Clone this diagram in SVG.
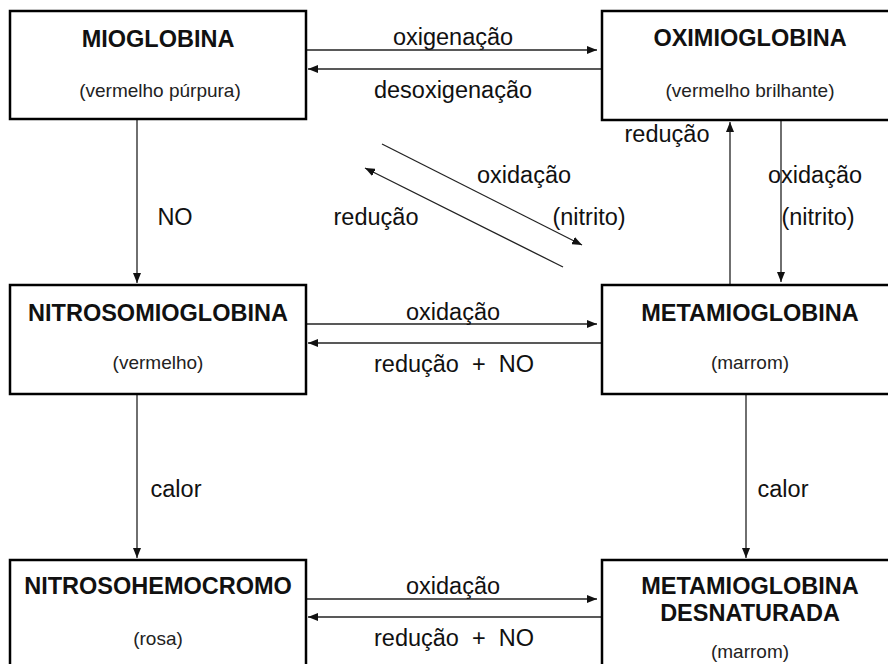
<svg xmlns="http://www.w3.org/2000/svg" width="888" height="664" viewBox="0 0 888 664">
<defs>
<style>
.box{fill:#fff;stroke:#000;stroke-width:2.5}
.t{font-family:"Liberation Sans",Arial,sans-serif;font-weight:bold;font-size:23.5px;fill:#111;text-anchor:middle}
.s{font-family:"Liberation Sans",Arial,sans-serif;font-size:19px;fill:#222;text-anchor:middle}
.l{font-family:"Liberation Sans",Arial,sans-serif;font-size:23.5px;fill:#111;text-anchor:middle}
.c{stroke:#222;stroke-width:1.3;fill:none;marker-end:url(#ah)}
</style>
<marker id="ah" markerUnits="userSpaceOnUse" markerWidth="11" markerHeight="8" refX="10" refY="4" orient="auto">
<path d="M0,0 L10,4 L0,8 z" fill="#111"/>
</marker>
</defs>
<rect width="888" height="664" fill="#fff"/>
<g id="connectors">
<line class="c" x1="306" y1="50" x2="597" y2="50"/>
<line class="c" x1="602" y1="69" x2="308" y2="69"/>
<line class="c" x1="137" y1="120" x2="137" y2="283"/>
<line class="c" x1="730" y1="284" x2="730" y2="122"/>
<line class="c" x1="781" y1="121" x2="781" y2="282"/>
<line class="c" x1="382" y1="144" x2="582" y2="245"/>
<line class="c" x1="563" y1="267" x2="365" y2="168"/>
<line class="c" x1="306" y1="324" x2="597" y2="324"/>
<line class="c" x1="602" y1="343" x2="308" y2="343"/>
<line class="c" x1="137" y1="395" x2="137" y2="558"/>
<line class="c" x1="746" y1="395" x2="746" y2="558"/>
<line class="c" x1="306" y1="599" x2="597" y2="599"/>
<line class="c" x1="602" y1="617" x2="308" y2="617"/>
<text class="l" x="453" y="45">oxigenação</text>
<text class="l" x="453" y="98">desoxigenação</text>
<text class="l" x="175" y="225">NO</text>
<text class="l" x="667" y="142">redução</text>
<text class="l" x="815" y="183">oxidação</text>
<text class="l" x="818" y="225">(nitrito)</text>
<text class="l" x="524" y="183">oxidação</text>
<text class="l" x="589" y="225">(nitrito)</text>
<text class="l" x="376" y="225">redução</text>
<text class="l" x="453" y="320">oxidação</text>
<text class="l" x="454" y="372" xml:space="preserve" style="white-space:pre">redução  +  NO</text>
<text class="l" x="176" y="497">calor</text>
<text class="l" x="783" y="497">calor</text>
<text class="l" x="453" y="594">oxidação</text>
<text class="l" x="454" y="646" xml:space="preserve" style="white-space:pre">redução  +  NO</text>
</g>
<g id="mioglobina">
<rect class="box" x="10" y="11" width="296" height="108"/>
<text class="t" x="158" y="47">MIOGLOBINA</text>
<text class="s" x="160" y="97">(vermelho púrpura)</text>
</g>
<g id="oximioglobina">
<rect class="box" x="602" y="11" width="296" height="109"/>
<text class="t" x="750" y="46">OXIMIOGLOBINA</text>
<text class="s" x="750" y="97">(vermelho brilhante)</text>
</g>
<g id="nitrosomioglobina">
<rect class="box" x="10" y="285" width="296" height="109"/>
<text class="t" x="158" y="321">NITROSOMIOGLOBINA</text>
<text class="s" x="158" y="369">(vermelho)</text>
</g>
<g id="metamioglobina">
<rect class="box" x="602" y="285" width="296" height="109"/>
<text class="t" x="750" y="321">METAMIOGLOBINA</text>
<text class="s" x="750" y="369">(marrom)</text>
</g>
<g id="nitrosohemocromo">
<rect class="box" x="10" y="560" width="296" height="110"/>
<text class="t" x="158" y="594">NITROSOHEMOCROMO</text>
<text class="s" x="158" y="645">(rosa)</text>
</g>
<g id="metamioglobina-desnaturada">
<rect class="box" x="602" y="560" width="296" height="110"/>
<text class="t" x="750" y="594">METAMIOGLOBINA</text>
<text class="t" x="750" y="621">DESNATURADA</text>
<text class="s" x="750" y="658">(marrom)</text>
</g>
</svg>
